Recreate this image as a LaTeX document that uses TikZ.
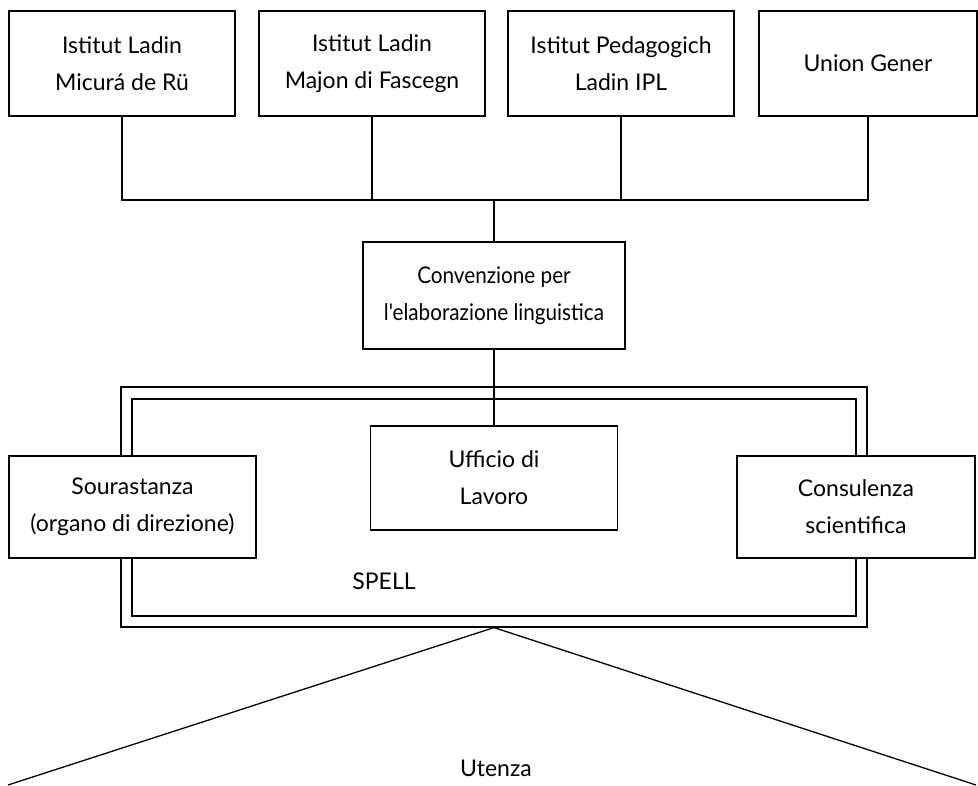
\documentclass[tikz,border=0pt]{standalone}
\usepackage{fontspec}
\setmainfont{Lato}
\newfontfamily\strettofont[FakeStretch=0.9]{Lato}
\usepackage{tikz}
\usetikzlibrary{positioning,calc}

\begin{document}
\begin{tikzpicture}[x=1pt,y=-1pt]
        \tikzstyle{ente}=[rectangle, draw, line width=1.2pt, fill=white, inner sep=0pt, align=center,
            font=\fontsize{23}{37}\selectfont]
        \tikzstyle{conn}=[line width=1.3pt]
        \tikzstyle{etich}=[inner sep=0pt, font=\fontsize{23}{37}\selectfont]

        \useasboundingbox (0,0) rectangle (978,786);

        \node[ente, minimum width=226pt, minimum height=105pt] (ilr) at (122,63.5) {Istitut Ladin\\Micurá de Rü};
        \node[ente, minimum width=226pt, minimum height=105pt] (ilm) at (372,63.5) {Istitut Ladin\\Majon di Fascegn};
        \node[ente, minimum width=226pt, minimum height=105pt] (ipl) at (621,63.5) {Istitut Pedagogich\\Ladin IPL};
        \node[ente, minimum width=218pt, minimum height=105pt] (ug)  at (868,63.5) {Union Gener};

        \coordinate (bus) at (495,200);
        \draw[conn] (ilr.south) |- (ug.south |- bus) -- (ug.south);
        \draw[conn] (ilm.south) -- (ilm.south |- bus);
        \draw[conn] (ipl.south) -- (ipl.south |- bus);

        \node[ente, minimum width=262pt, minimum height=107pt, font=\strettofont\fontsize{23}{37}\selectfont] (conv) at (494,295.5) {Convenzione per\\l'elaborazione linguistica};
        \draw[conn] (conv.north) -- (conv.north |- bus);

        \node[ente, minimum width=746pt, minimum height=240pt] (spellout) at (494,507) {};
        \node[ente, minimum width=724pt, minimum height=217pt] (spellin)  at (494,507.5) {};

        \node[ente, minimum width=247pt, minimum height=104pt] (uff) at (494,478) {Ufficio di\\Lavoro};
        \draw[conn] (conv.south) -- (uff.north);
        \node[ente, minimum width=247pt, minimum height=102pt] (sour) at (132.5,507) {Sourastanza\\(organo di direzione)};
        \node[ente, minimum width=238pt, minimum height=102pt] (cons) at (856,507) {Consulenza\\scientifica};

        \node[etich] (spell) at (384,581) {SPELL};

        \coordinate (usx) at (8,785);
        \coordinate (udx) at (976,785);
        \draw[conn] (usx) -- (spellout.south) -- (udx);
        \node[etich] (ut) at (496,768) {Utenza};
\end{tikzpicture}
\end{document}
